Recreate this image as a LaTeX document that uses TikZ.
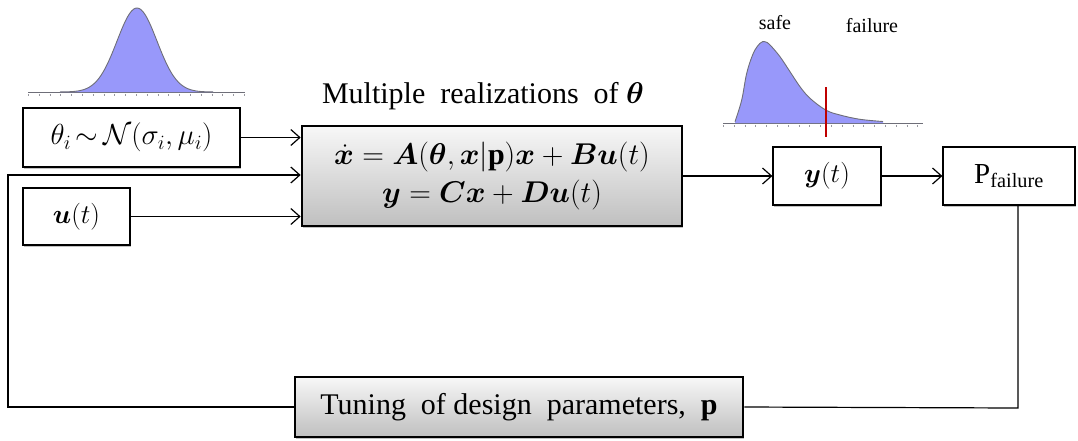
\RequirePackage{fix-cm}
\documentclass[tikz,border=0pt]{standalone}
\usepackage{amsmath,bm}
\usepackage{fontspec}
\setmainfont{Liberation Serif}
\usetikzlibrary{arrows.meta,shadows}
\definecolor{distfill}{RGB}{152,152,250}
\definecolor{distline}{RGB}{110,110,120}
\begin{document}
\begin{tikzpicture}[x=1pt,y=-1pt,
  line width=1.2pt,
  shad/.style={drop shadow={shadow xshift=1pt,shadow yshift=-1.5pt,fill=black!40,opacity=0.6}},
  box/.style={draw, line width=1.2pt, fill=white, inner sep=0pt, shad, font=\fontsize{27}{32}\selectfont},
  bigbox/.style={draw, line width=2.6pt, top color=black!3, bottom color=black!25, inner sep=0pt, shad, font=\fontsize{30}{36}\selectfont},
  arr/.style={-{Straight Barb[length=9pt,width=16pt,line width=1.2pt]}},
  lbl/.style={inner sep=0pt, font=\fontsize{20}{24}\selectfont},
  axisline/.style={draw=distline, line width=1pt},
  axisticks/.style={draw=distline!70, line width=2pt, dash pattern=on 0.8pt off 10pt},
  ]
\useasboundingbox (0,0) rectangle (1078,440);

% nodes
\node[box, minimum width=217pt, minimum height=59pt, font=\fontsize{29}{32}\selectfont] (theta) at (131.5,137.5) {$\theta_i\,{\sim}\,\mathcal{N}(\sigma_i,\mu_i)$};
\node[box, minimum width=107pt, minimum height=57pt] (u) at (76.5,216.5) {$\bm{u}(t)$};
\node[bigbox, minimum width=380pt, minimum height=100pt, align=center] (main) at (492,176)
  {$\dot{\bm{x}} = \bm{A}(\bm{\theta},\bm{x}|\mathbf{p})\bm{x} + \bm{B}\bm{u}(t)$\\[2pt] $\bm{y} = \bm{C}\bm{x} + \bm{D}\bm{u}(t)$};
\node[inner sep=0pt, font=\fontsize{30}{34}\selectfont] (title) at (483,96) {Multiple\ \ realizations\ \ of $\bm{\theta}$};
\node[box, minimum width=108pt, minimum height=58pt] (y) at (827,176) {$\bm{y}(t)$};
\node[box, minimum width=132pt, minimum height=58pt, font=\fontsize{29}{32}\selectfont] (pf) at (1009,176) {P$_{\text{failure}}$};
\node[bigbox, minimum width=448pt, minimum height=60pt, font=\fontsize{30}{34}\selectfont] (tune) at (519,407) {Tuning\ \ of design\ \ parameters,\ \ $\mathbf{p}$};

\node[lbl] (safe) at (775,23) {safe};
\node[lbl] (fail) at (872,26) {failure};

% connectors
\coordinate (fbl) at (8,175);
\coordinate (fbr) at (1018,408);
\draw[arr] (theta.east) -- (theta.east -| main.west);
\draw[arr] (u.east) -- (u.east -| main.west);
\draw[arr] (tune.west) -| (fbl) -- (fbl -| main.west);
\draw[arr] (main.east) -- (y.west);
\draw[arr] (y.east) -- (pf.west);
\draw (tune.east) -- (fbr) -- (fbr |- pf.south);

% gaussian distribution
\draw[axisticks] (28,95) -- (245,95);
\draw[axisline] (28,92) -- (245,92);
\fill[distfill] (60,92) -- plot[domain=60:213, samples=80] (\x,{92-84*exp(-(\x-137)*(\x-137)/800)}) -- (213,92) -- cycle;
\draw[distline, line width=0.9pt] plot[domain=60:213, samples=80] (\x,{92-84*exp(-(\x-137)*(\x-137)/800)});

% skewed distribution
\draw[axisticks] (723,126) -- (923,126);
\draw[axisline] (723,123) -- (923,123);
\fill[distfill] (735,123) -- plot[smooth, tension=0.6] coordinates {(735,121.7) (741.7,100) (746.7,73.3) (753.3,53.3) (760,43.3) (765,41.7) (770,45) (780,56.7) (790,71.7) (800,86.7) (810,98.3) (825.7,110) (840,115) (860,119.3) (883,121.5)} -- (883,123) -- cycle;
\draw[distline, line width=0.9pt] plot[smooth, tension=0.6] coordinates {(735,121.7) (741.7,100) (746.7,73.3) (753.3,53.3) (760,43.3) (765,41.7) (770,45) (780,56.7) (790,71.7) (800,86.7) (810,98.3) (825.7,110) (840,115) (860,119.3) (883,121.5)};
\draw[red!75!black, line width=1.1pt] (826,87) -- (826,137);
\end{tikzpicture}
\end{document}
